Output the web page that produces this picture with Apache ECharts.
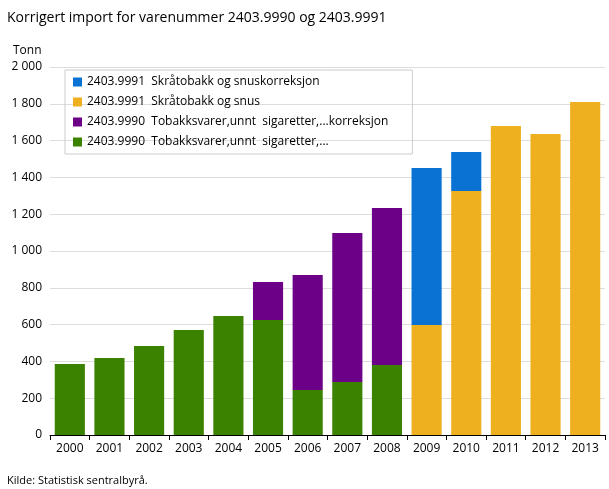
<!DOCTYPE html>
<html><head><meta charset="utf-8">
<script src="https://cdn.jsdelivr.net/npm/echarts@6/dist/echarts.min.js"></script>
<style>html,body{margin:0;padding:0;background:#fff}#c{width:609px;height:489px}</style>
</head><body><div id="c"></div>
<script>
var years=['2000','2001','2002','2003','2004','2005','2006','2007','2008','2009','2010','2011','2012','2013'];
var green=[386,418,484,571,647,625,245,288,380,null,null,null,null,null];
var purple=[null,null,null,null,null,207,625,810,854,null,null,null,null,null];
var yellow=[null,null,null,null,null,null,null,null,null,598,1326,1679,1636,1810];
var blue=[null,null,null,null,null,null,null,null,null,853,212,null,null,null];
var names=['2403.9990  Tobakksvarer,unnt  sigaretter,...','2403.9990  Tobakksvarer,unnt  sigaretter,...korreksjon','2403.9991  Skråtobakk og snus','2403.9991  Skråtobakk og snuskorreksjon'];
var colors=['#3b8200','#6c0087','#eeb01e','#0a72d3'];
var data=[green,purple,yellow,blue];
var ch=echarts.init(document.getElementById('c'));
ch.setOption({
 animation:false,
 textStyle:{fontFamily:'Open Sans'},
 title:[{text:'Korrigert import for varenummer 2403.9990 og 2403.9991',left:2,top:6,textStyle:{fontSize:14,fontWeight:'normal',color:'#000',fontFamily:'Open Sans'}},
        {text:'Tonn',left:8,top:40,textStyle:{fontSize:12,fontWeight:'normal',color:'#000'}},
        {text:'Kilde: Statistisk sentralbyrå.',left:2,top:470,textStyle:{fontSize:11,fontWeight:'normal',color:'#000'}}],
 legend:{orient:'vertical',left:65,top:70,width:370,itemGap:8,itemWidth:9,itemHeight:9,icon:'rect',
   borderColor:'#ccc',borderWidth:1,padding:[6,24,6,8],
   data:[names[3],names[2],names[1],names[0]],textStyle:{fontSize:12,color:'#000'}},
 grid:{left:50,right:4,top:67,bottom:54,containLabel:false},
 xAxis:{type:'category',data:years,axisLine:{lineStyle:{color:'#000'}},axisTick:{show:true,lineStyle:{color:'#000'}},axisLabel:{color:'#000',fontSize:12}},
 yAxis:{type:'value',min:0,max:2000,interval:200,axisLabel:{color:'#000',fontSize:12,formatter:function(v){return v>=1000?String(v).replace(/(\d)(\d{3})$/,'$1 $2'):v;}},
   splitLine:{lineStyle:{color:'#ddd'}}},
 series:data.map(function(d,i){return {name:names[i],type:'bar',stack:'s',data:d,barWidth:'76%',itemStyle:{color:colors[i]}};})
});
</script></body></html>
